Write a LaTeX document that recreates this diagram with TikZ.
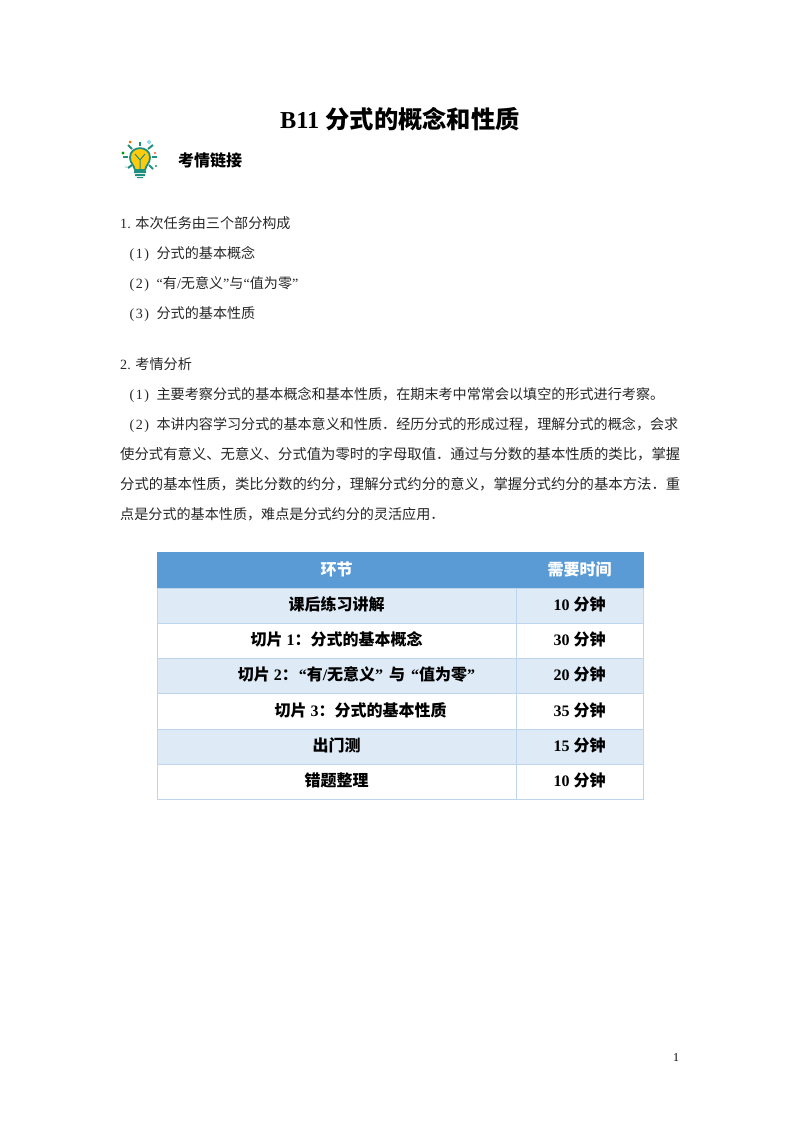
\documentclass[tikz,border=0pt]{standalone}
\usepackage{fontspec}
\setmainfont{Liberation Serif}
\newfontfamily\cjk{Noto Sans CJK SC}
\newcommand{\zh}[1]{{\cjk #1}}
\newcommand{\itemno}[1]{(\hspace{1.5pt}#1\hspace{1.5pt})\hspace{7.5pt}}
\definecolor{headblue}{HTML}{5B9BD5}
\definecolor{bandblue}{HTML}{DEEAF6}
\definecolor{edgeblue}{HTML}{BDD6EE}
\definecolor{bulbteal}{HTML}{1F8F7F}
\definecolor{bulbyellow}{HTML}{FFCC0D}
\tikzstyle{bodyline} = [anchor=base west, inner sep=0pt, font=\fontsize{14.1}{14}\selectfont, text=black!85]
\tikzstyle{wideline} = [bodyline, font=\fontsize{14.36}{14}\selectfont]
\tikzstyle{bigcell} = [draw=edgeblue, line width=1pt, minimum width=359pt, minimum height=35.3pt, inner sep=0pt, text height=13pt, text depth=4pt, text centered, font=\fontsize{16}{16}\selectfont\bfseries]
\tikzstyle{smallcell} = [bigcell, minimum width=127pt]
\tikzstyle{ray} = [bulbteal, line width=2pt]

\begin{document}
\begin{tikzpicture}[x=1pt, y=-1pt, node distance=35.25pt]
    \useasboundingbox (0,0) rectangle (800,1132);

    \node (title) [inner sep=0pt, font=\fontsize{24.3}{24}\selectfont\bfseries] at (400,119) {B11 \zh{分式的概念和性质}};
    \node (section) [inner sep=0pt, anchor=west, font=\fontsize{16}{16}\selectfont\bfseries] at (178,160) {\zh{考情链接}};

    % light bulb
    \fill[bulbyellow, draw=bulbteal, line width=1.8pt] (135,170) .. controls (134,165) and (130,163) .. (130,157.5) .. controls (130,145) and (150,145) .. (150,157.5) .. controls (150,163) and (146,165) .. (145,170) -- cycle;
    \draw[bulbteal, line width=1pt] (140,170) -- (140,160) (135,154) -- (140,160) -- (145,154);
    \fill[bulbteal] (134,171) rectangle (146,173) (135,174) rectangle (145,176) (137,177) rectangle (143,178);
    \draw[ray] (140,141.5) -- (140,146);
    \draw[ray] (128,145) -- (132,149);
    \draw[ray] (153,145) -- (148,149);
    \draw[ray] (123,157) -- (128,157);
    \draw[ray] (152,157) -- (157,157);
    \draw[ray] (128,168) -- (132,165);
    \draw[ray] (153,169) -- (149,165);
    \fill[orange!80!red] (130,142) circle (1.5);
    \draw[cyan!60, line width=0.8pt] (149,142) circle (1.5);
    \fill[green!60!black] (123,153) circle (1.6);
    \fill[red!70] (155,153) circle (1.2);
    \fill[bulbteal] (156,166) circle (1.2);
    \fill[bulbteal!50] (126,167) circle (0.8);

    \node (plan) [bodyline] at (120,228) {1. \zh{本次任务由三个部分构成}};
    \node (plana) [bodyline] at (129.5,258) {\itemno{1}\zh{分式的基本概念}};
    \node (planb) [bodyline] at (129.5,288) {\itemno{2}“\zh{有}/\zh{无意义}”\zh{与}“\zh{值为零}”};
    \node (planc) [bodyline] at (129.5,318) {\itemno{3}\zh{分式的基本性质}};

    \node (exam) [bodyline] at (120,369) {2. \zh{考情分析}};
    \node (exama) [bodyline] at (129.5,399) {\itemno{1}\zh{主要考察分式的基本概念和基本性质，在期末考中常常会以填空的形式进行考察。}};
    \node (examb) [bodyline] at (129.5,429) {\itemno{2}\zh{本讲内容学习分式的基本意义和性质．经历分式的形成过程，理解分式的概念，会求}};
    \node (examc) [wideline] at (120,459) {\zh{使分式有意义、无意义、分式值为零时的字母取值．通过与分数的基本性质的类比，掌握}};
    \node (examd) [wideline] at (120,489) {\zh{分式的基本性质，类比分数的约分，理解分式约分的意义，掌握分式约分的基本方法．重}};
    \node (exame) [bodyline] at (120,519) {\zh{点是分式的基本性质，难点是分式约分的灵活应用．}};

    \node (head) [bigcell, fill=headblue, draw=headblue, text=white] at (336.5,570.5) {\zh{环节}};
    \node (headt) [smallcell, fill=headblue, draw=headblue, text=white] at (579.5,570.5) {\zh{需要时间}};

    \node (rowa) [bigcell, fill=bandblue, below of=head] {\zh{课后练习讲解}};
    \node (rowat) [smallcell, fill=bandblue, below of=headt] {10 \zh{分钟}};
    \node (rowb) [bigcell, below of=rowa] {\zh{切片} 1\zh{：分式的基本概念}};
    \node (rowbt) [smallcell, below of=rowat] {30 \zh{分钟}};
    \node (rowc) [bigcell, fill=bandblue, below of=rowb] {\hspace*{40pt}\zh{切片} 2\zh{：}\hspace{1pt}“\zh{有}/\zh{无意义}”\hspace{2pt} \zh{与} \hspace{2pt}“\zh{值为零}”};
    \node (rowct) [smallcell, fill=bandblue, below of=rowbt] {20 \zh{分钟}};
    \node (rowd) [bigcell, below of=rowc] {\hspace*{48pt}\zh{切片} 3\zh{：分式的基本性质}};
    \node (rowdt) [smallcell, below of=rowct] {35 \zh{分钟}};
    \node (rowe) [bigcell, fill=bandblue, below of=rowd] {\zh{出门测}};
    \node (rowet) [smallcell, fill=bandblue, below of=rowdt] {15 \zh{分钟}};
    \node (rowf) [bigcell, below of=rowe] {\zh{错题整理}};
    \node (rowft) [smallcell, below of=rowet] {10 \zh{分钟}};

    \node (page) [inner sep=0pt, font=\fontsize{12}{12}\selectfont] at (676,1058) {1};
\end{tikzpicture}
\end{document}
